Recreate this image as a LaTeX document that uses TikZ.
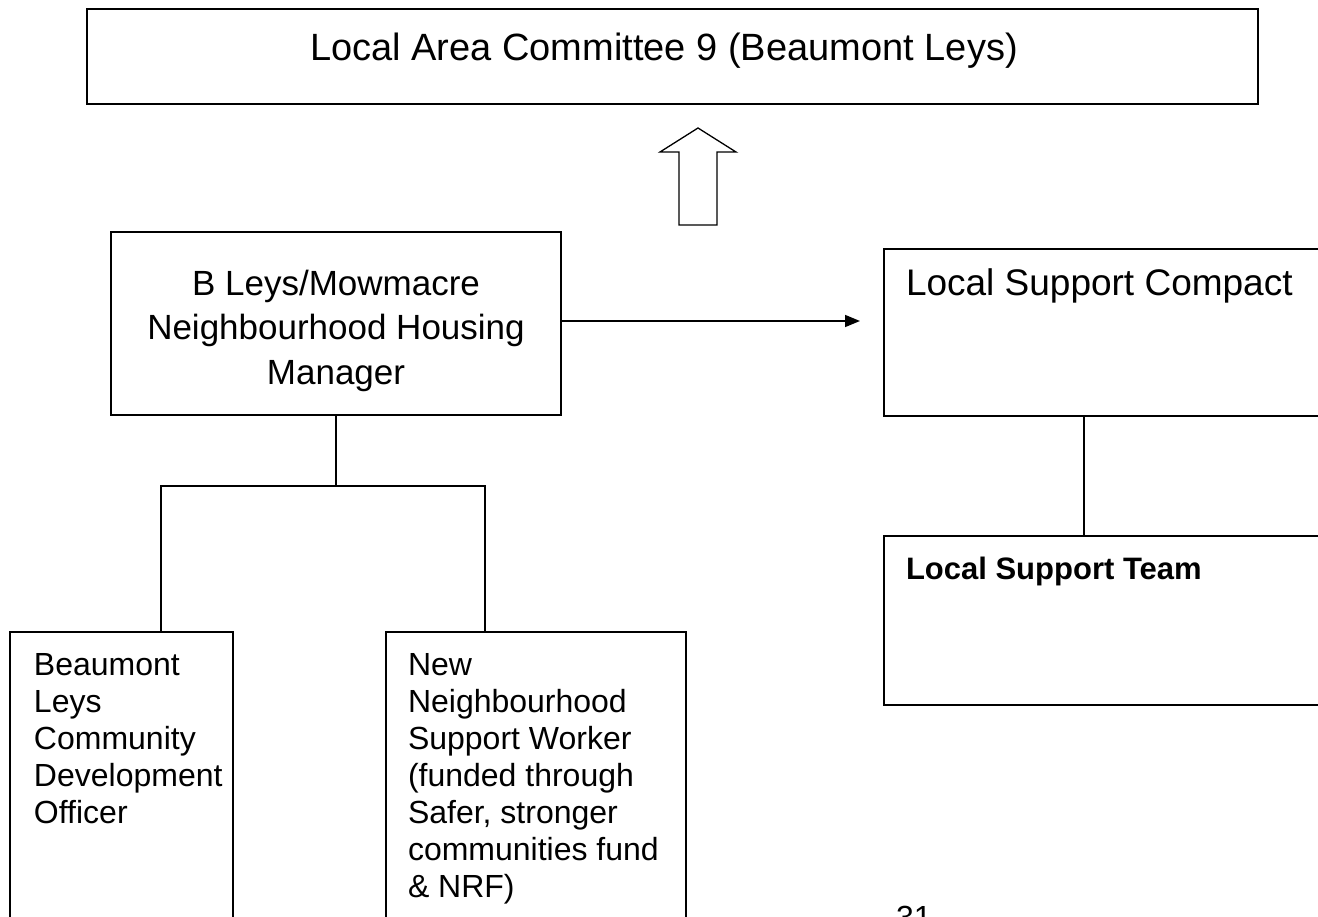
\documentclass[tikz,border=0pt]{standalone}
\usepackage{fontspec}
\setmainfont{Liberation Sans}
\usetikzlibrary{arrows.meta,calc}
\tikzset{
  box/.style={draw, rectangle, line width=1.8pt, inner sep=0pt, outer sep=0pt},
  txt/.style={inner sep=0pt, outer sep=0pt},
  conn/.style={line width=1.5pt},
}
\begin{document}
\begin{tikzpicture}[x=1pt, y=-1pt]
\useasboundingbox (0,0) rectangle (1318,917);
\fill[white] (0,0) rectangle (1318,917);
\clip (0,0) rectangle (1318,917);
% boxes
\node[box, minimum width=1171pt, minimum height=95pt] (top) at (672.5,56.5) {};
\node[box, minimum width=450pt, minimum height=183pt] (bl) at (336,323.5) {};
\node[box, minimum width=456pt, minimum height=167pt] (lsc) at (1112,332.5) {};
\node[box, minimum width=456pt, minimum height=169pt] (lst) at (1112,620.5) {};
\node[box, minimum width=223pt, minimum height=308pt] (blcd) at (121.5,786) {};
\node[box, minimum width=300pt, minimum height=308pt] (nnsw) at (536,786) {};
% texts
\node[txt, anchor=north, font=\fontsize{38}{46}\selectfont] (toptext) at (664,33) {Local Area Committee 9 (Beaumont Leys)};
\node[txt, anchor=north, align=center, font=\fontsize{35}{44.5}\selectfont] (bltext) at (336,270) {B Leys/Mowmacre\\Neighbourhood Housing\\Manager};
\node[txt, anchor=north west, font=\fontsize{37}{44}\selectfont] (lsctext) at (906,269) {Local Support Compact};
\node[txt, anchor=north west, font=\bfseries\fontsize{31}{37}\selectfont] (lsttext) at (906,557) {Local Support Team};
\node[txt, anchor=north west, align=left, font=\fontsize{32}{37}\selectfont] (blcdtext) at (34,653) {Beaumont\\Leys\\Community\\Development\\Officer};
\node[txt, anchor=north west, align=left, font=\fontsize{32}{37}\selectfont] (nnswtext) at (408,653) {New\\Neighbourhood\\Support Worker\\(funded through\\Safer, stronger\\communities fund\\\& NRF)};
\node[txt, anchor=north west, font=\fontsize{32}{37}\selectfont] (pg) at (896,906) {31};
% block arrow
\draw[line width=1.3pt, line join=miter] (679,225) -- (679,152) -- (660,152) -- (698,128) -- (736,152) -- (717,152) -- (717,225) -- cycle;
% arrow to compact
\coordinate (aend) at (860,321);
\draw[conn, -{Triangle[length=15pt,width=12pt]}] (bl.east |- aend) -- (aend);
% tree
\coordinate (j) at (336,486);
\coordinate (c1) at (161,632);
\coordinate (c2) at (485,632);
\draw[conn] (bl.south) -- (j);
\draw[conn] (c1) |- (j) -| (c2);
% right connector
\draw[conn] ($(lsc.south west)+(200,0)$) -- ($(lst.north west)+(200,0)$);
\end{tikzpicture}
\end{document}
